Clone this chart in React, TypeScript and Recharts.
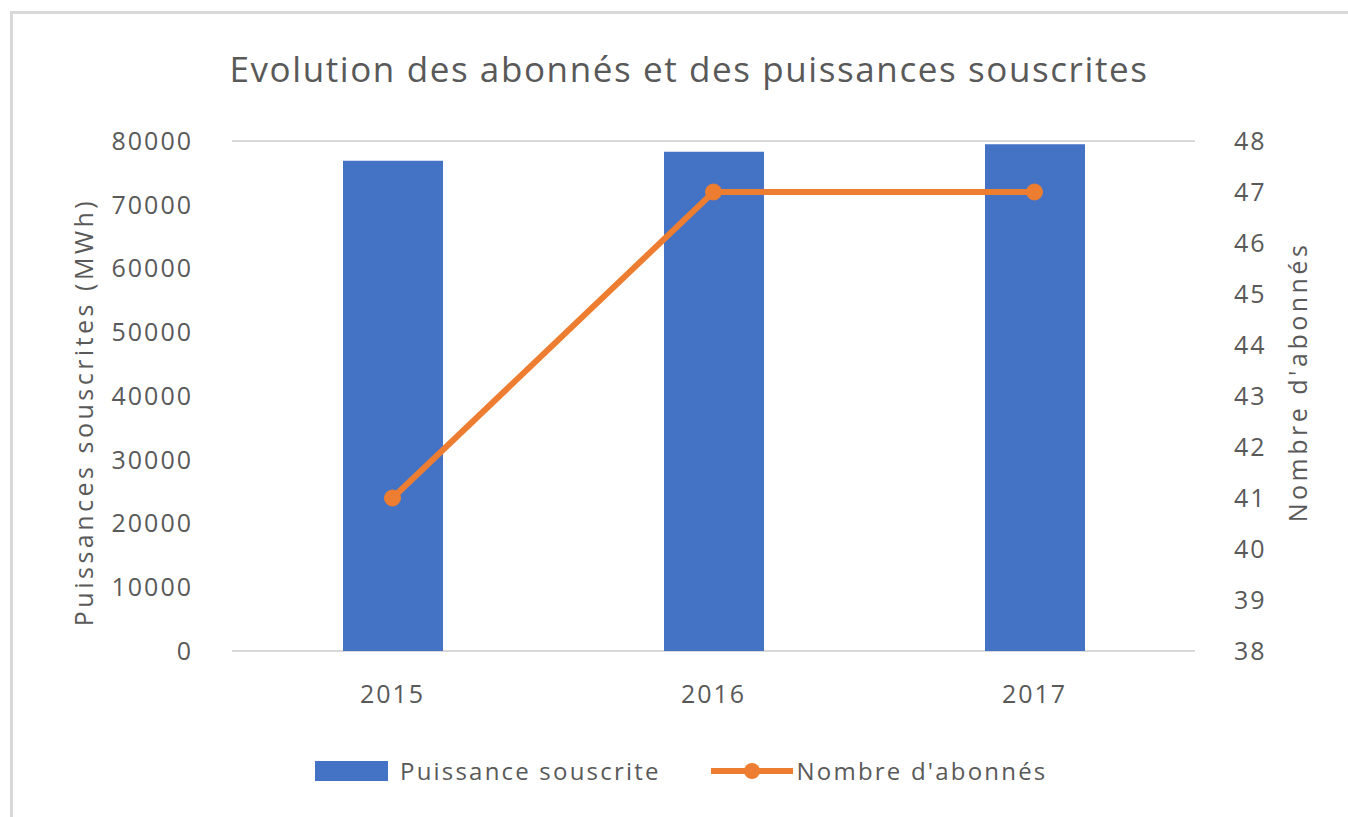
import React from 'react';
import { ComposedChart, Bar, Line, XAxis, YAxis, CartesianGrid, Legend } from 'recharts';

const years = ['2015', '2016', '2017'];
const puissanceSouscrite = [76900, 78300, 79500];
const nombreAbonnes = [41, 47, 47];
const puissanceTicks = [0, 10000, 20000, 30000, 40000, 50000, 60000, 70000, 80000];
const abonnesTicks = [38, 39, 40, 41, 42, 43, 44, 45, 46, 47, 48];

const data = years.map((year, i) => ({
    year,
    puissance: puissanceSouscrite[i],
    abonnes: nombreAbonnes[i],
}));

const FONT = '"Open Sans", sans-serif';
const GREY = '#595959';
const BLUE = '#4472C4';
const ORANGE = '#ED7D31';

const tickStyle = { fill: GREY, fontSize: 25, fontFamily: FONT, letterSpacing: 2 };

function ChartLegend() {
    return (
        <div style={{ display: 'flex', alignItems: 'center', fontFamily: FONT, fontSize: 24, color: GREY, letterSpacing: 2.2 }}>
            <span style={{ display: 'inline-block', width: 73, height: 20, background: BLUE, marginRight: 12 }} />
            <span style={{ marginRight: 50 }}>Puissance souscrite</span>
            <svg width={82} height={24} style={{ marginRight: 4 }}>
                <line x1={0} y1={12} x2={82} y2={12} stroke={ORANGE} strokeWidth={6} />
                <circle cx={41} cy={12} r={8} fill={ORANGE} />
            </svg>
            <span>Nombre d'abonnés</span>
        </div>
    );
}

export default function App() {
    return (
        <div style={{ position: 'fixed', left: 0, top: 0, width: 1348, height: 817, overflow: 'hidden', background: '#fff' }}>
            {/* chart frame, runs off the page on the right and bottom */}
            <div style={{ position: 'absolute', left: 10, top: 11, width: 1400, height: 900, border: '3px solid #d9d9d9' }} />
            <div style={{ position: 'absolute', left: 0, top: 46, width: 1378, textAlign: 'center', fontFamily: FONT, fontSize: 35, color: GREY, letterSpacing: 1.6, lineHeight: '46px' }}>
                Evolution des abonnés et des puissances souscrites
            </div>
            <ComposedChart
                width={1348}
                height={817}
                data={data}
                barSize={100}
                margin={{ top: 141, right: 0, left: 0, bottom: 84 }}
                style={{ position: 'absolute', left: 0, top: 0 }}
            >
                <CartesianGrid vertical={false} stroke="#d9d9d9" strokeWidth={2} />
                <XAxis
                    dataKey="year"
                    height={50}
                    axisLine={false}
                    tickLine={false}
                    tick={tickStyle}
                    tickMargin={28}
                />
                <YAxis
                    yAxisId="left"
                    width={232}
                    domain={[0, 80000]}
                    ticks={puissanceTicks}
                    axisLine={false}
                    tickLine={false}
                    tick={tickStyle}
                    tickMargin={33}
                    label={{
                        value: 'Puissances souscrites (MWh)',
                        angle: -90,
                        position: 'insideLeft',
                        offset: 84,
                        dy: 16,
                        style: { textAnchor: 'middle', fill: GREY, fontSize: 25, fontFamily: FONT, letterSpacing: 3.5 },
                    }}
                />
                <YAxis
                    yAxisId="right"
                    orientation="right"
                    width={153}
                    domain={[38, 48]}
                    ticks={abonnesTicks}
                    axisLine={false}
                    tickLine={false}
                    tick={{ ...tickStyle, textAnchor: 'start' }}
                    tickMargin={33}
                    label={{
                        value: "Nombre d'abonnés",
                        angle: -90,
                        position: 'insideRight',
                        offset: 50,
                        dy: -14,
                        style: { textAnchor: 'middle', fill: GREY, fontSize: 25, fontFamily: FONT, letterSpacing: 3.5 },
                    }}
                />
                <Bar yAxisId="left" dataKey="puissance" name="Puissance souscrite" fill={BLUE} isAnimationActive={false} />
                <Line
                    yAxisId="right"
                    dataKey="abonnes"
                    name="Nombre d'abonnés"
                    stroke={ORANGE}
                    strokeWidth={6}
                    dot={{ r: 8, fill: ORANGE, stroke: ORANGE, strokeWidth: 1 }}
                    activeDot={false}
                    isAnimationActive={false}
                />
                <Legend
                    verticalAlign="bottom"
                    content={() => <ChartLegend />}
                    wrapperStyle={{ top: 754, left: 315, width: 900, height: 32 }}
                />
            </ComposedChart>
        </div>
    );
}
